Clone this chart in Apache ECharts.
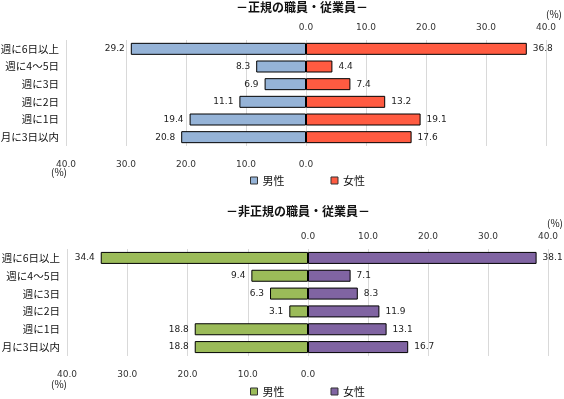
<!DOCTYPE html>
<html>
<head>
<meta charset="utf-8">
<script src="https://cdn.jsdelivr.net/npm/echarts@6/dist/echarts.min.js"></script>
<style>
  html, body { margin: 0; padding: 0; background: #fff; }
  #main { width: 564px; height: 399px; }
</style>
</head>
<body>
<div id="main"></div>
<script>
var myChart = echarts.init(document.getElementById('main'));

var categories = ['週に6日以上', '週に4～5日', '週に3日', '週に2日', '週に1日', '月に3日以内'];
var seiki_male = [29.2, 8.3, 6.9, 11.1, 19.4, 20.8];
var seiki_female = [36.8, 4.4, 7.4, 13.2, 19.1, 17.6];
var hiseiki_male = [34.4, 9.4, 6.3, 3.1, 18.8, 18.8];
var hiseiki_female = [38.1, 7.1, 8.3, 11.9, 13.1, 16.7];

var cjk = '"Noto Sans CJK JP", sans-serif';
var num = '"DejaVu Sans", sans-serif';

function xAx(gi, inverse, pos) {
    return {
        type: 'value', gridIndex: gi, min: 0, max: 40, interval: 10,
        inverse: inverse, position: pos,
        axisLine: { show: false }, axisTick: { show: false },
        splitLine: { lineStyle: { color: '#d9d9d9' } },
        axisLabel: {
            color: '#333', fontFamily: num, fontSize: 9,
            margin: pos === 'top' ? 8 : 14,
            formatter: function (v) { return v.toFixed(1); }
        }
    };
}
function yAx(gi, showLabel) {
    return {
        type: 'category', gridIndex: gi, data: categories, inverse: true,
        axisLine: { show: false }, axisTick: { show: false },
        axisLabel: { show: showLabel, color: '#111', fontFamily: cjk, fontSize: 10.5, margin: 7 }
    };
}
function bar(name, gi, data, color, pos) {
    return {
        name: name, type: 'bar', xAxisIndex: gi, yAxisIndex: gi, data: data,
        barWidth: 12,
        itemStyle: { color: color, borderColor: '#000', borderWidth: 1 },
        label: {
            show: true, position: pos, distance: 6, color: '#222',
            fontFamily: num, fontSize: 9,
            formatter: function (p) { return p.value.toFixed(1); }
        }
    };
}
function legendAt(top, c1, c2) {
    return {
        top: top, left: 250, itemGap: 46, itemWidth: 7, itemHeight: 7,
        icon: 'rect', selectedMode: false, padding: 0,
        textStyle: { fontFamily: cjk, fontSize: 11, color: '#111' },
        data: [
            { name: '男性', itemStyle: { color: c1, borderColor: '#333', borderWidth: 1 } },
            { name: '女性', itemStyle: { color: c2, borderColor: '#333', borderWidth: 1 } }
        ]
    };
}
function txt(text, left, top, size, bold) {
    return {
        text: text, left: left, top: top, padding: 0,
        textStyle: { fontFamily: cjk, fontSize: size, fontWeight: bold ? 'bold' : 'normal', color: '#111' }
    };
}

option = {
    backgroundColor: '#fff',
    animation: false,
    title: [
        txt('－正規の職員・従業員－', 236, 1, 12, true),
        txt('－非正規の職員・従業員－', 226, 205, 12, true),
        txt('(%)', 546, 9, 10),
        txt('(%)', 51, 167, 10),
        txt('(%)', 547, 218, 10),
        txt('(%)', 51, 379, 10)
    ],
    legend: [
        legendAt(175, '#95b3d7', '#ff5b41'),
        legendAt(386, '#9bbb59', '#8064a2')
    ],
    grid: [
        { left: 66, width: 240, top: 40, height: 106, outerBoundsMode: 'none' },
        { left: 306, width: 240, top: 40, height: 106, outerBoundsMode: 'none' },
        { left: 67, width: 241, top: 249, height: 107, outerBoundsMode: 'none' },
        { left: 308, width: 240, top: 249, height: 107, outerBoundsMode: 'none' }
    ],
    xAxis: [
        xAx(0, true, 'bottom'), xAx(1, false, 'top'),
        xAx(2, true, 'bottom'), xAx(3, false, 'top')
    ],
    yAxis: [yAx(0, true), yAx(1, false), yAx(2, true), yAx(3, false)],
    series: [
        bar('男性', 0, seiki_male, '#95b3d7', 'left'),
        bar('女性', 1, seiki_female, '#ff5b41', 'right'),
        bar('男性', 2, hiseiki_male, '#9bbb59', 'left'),
        bar('女性', 3, hiseiki_female, '#8064a2', 'right')
    ]
};

myChart.setOption(option);
</script>
</body>
</html>
